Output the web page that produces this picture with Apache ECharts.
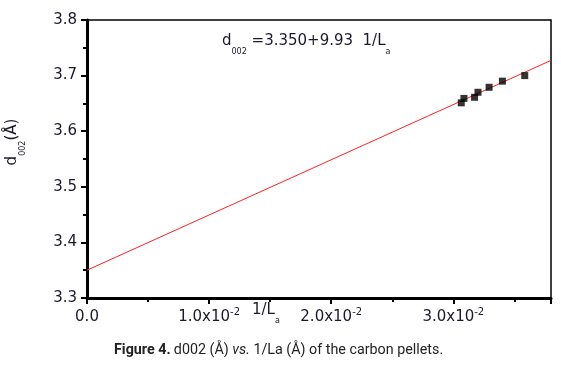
<!DOCTYPE html>
<html>
<head>
<meta charset="utf-8">
<script src="https://cdn.jsdelivr.net/npm/echarts@6/dist/echarts.min.js"></script>
<style>
html,body{margin:0;padding:0;background:#fff;}
#chart{width:561px;height:365px;}
</style>
</head>
<body>
<div id="chart"></div>
<script>
// Data
const invLa = [0.03065, 0.03087, 0.03174, 0.03202, 0.03293, 0.03402, 0.03585];
const d002 = [3.651, 3.659, 3.661, 3.670, 3.679, 3.690, 3.700];
const fitIntercept = 3.350;
const fitSlope = 9.93;
const fitRange = [0, 0.038];
const yTicks = ['3.3', '3.4', '3.5', '3.6', '3.7', '3.8'];
const xTickMantissa = ['0.0', '1.0', '2.0', '3.0'];

const fitLine = fitRange.map(x => [x, fitIntercept + fitSlope * x]);
const pts = invLa.map((x, i) => [x, d002[i]]);

const FONT = 'DejaVu Sans';
const CAP = 'Roboto';
const chart = echarts.init(document.getElementById('chart'));
chart.setOption({
  animation: false,
  backgroundColor: '#fff',
  grid: {left: 87, right: 10, top: 20, bottom: 67, show: true, borderColor: '#000', borderWidth: 1.5, backgroundColor: 'transparent'},
  xAxis: {
    type: 'value', min: 0, max: 0.038, interval: 0.01,
    axisLine: {show: true, lineStyle: {color: '#000', width: 3}},
    axisTick: {show: true, length: 6, lineStyle: {color: '#000', width: 2}},
    minorTick: {show: true, splitNumber: 2, length: 4, lineStyle: {color: '#000', width: 2}},
    splitLine: {show: false},
    axisLabel: {
      margin: 9, showMaxLabel: false,
      formatter: function (v) {
        const i = Math.round(v * 100);
        if (i === 0) return '{b|' + xTickMantissa[0] + '}';
        return '{b|' + xTickMantissa[i] + 'x10}{s|-2}';
      },
      rich: {
        b: {fontFamily: FONT, fontSize: 15, color: '#1a1a2a', lineHeight: 20, verticalAlign: 'middle'},
        s: {fontFamily: FONT, fontSize: 10, color: '#1a1a2a', lineHeight: 10, verticalAlign: 'top'}
      }
    }
  },
  yAxis: {
    type: 'value', min: 3.3, max: 3.8, interval: 0.1,
    axisLine: {show: true, lineStyle: {color: '#000', width: 3}},
    axisTick: {show: true, length: 6, lineStyle: {color: '#000', width: 2}},
    minorTick: {show: true, splitNumber: 2, length: 4, lineStyle: {color: '#000', width: 2}},
    splitLine: {show: false},
    axisLabel: {
      margin: 10, fontFamily: FONT, fontSize: 15, color: '#1a1a2a',
      formatter: function (v) { return yTicks[Math.round((v - 3.3) * 10)]; }
    }
  },
  series: [
    {type: 'line', data: fitLine, symbol: 'none', lineStyle: {color: '#ff2020', width: 1}, z: 2},
    {type: 'scatter', data: pts, symbol: 'rect', symbolSize: 7, itemStyle: {color: '#000'}, z: 3}
  ],
  graphic: [
    {type: 'text', left: 222, top: 34, style: {
      text: '{b|d}{u|002}{b| =3.350+9.93  1/L}{u|a}',
      rich: {
        b: {fontFamily: FONT, fontSize: 15, fill: '#1a1a2a', lineHeight: 22, verticalAlign: 'top'},
        u: {fontFamily: FONT, fontSize: 8, fill: '#1a1a2a', lineHeight: 9, verticalAlign: 'bottom'}
      }}},
    {type: 'text', left: 252, top: 303, style: {
      text: '{b|1/L}{u|a}',
      rich: {
        b: {fontFamily: FONT, fontSize: 15, fill: '#1a1a2a', lineHeight: 22, verticalAlign: 'top'},
        u: {fontFamily: FONT, fontSize: 8, fill: '#1a1a2a', lineHeight: 9, verticalAlign: 'bottom'}
      }}},
    {type: 'text', x: 16, y: 142, rotation: Math.PI / 2, style: {
      text: '{b|d}{u|002}{b|(Å)}', align: 'center', verticalAlign: 'middle',
      rich: {
        b: {fontFamily: FONT, fontSize: 15, fill: '#1a1a2a', lineHeight: 22, verticalAlign: 'top'},
        u: {fontFamily: FONT, fontSize: 8, fill: '#1a1a2a', lineHeight: 9, verticalAlign: 'bottom'}
      }}},
    {type: 'text', left: 114, top: 343, style: {
      text: '{b|Figure 4.} {n|d002 (Å) }{i|vs.}{n| 1/La (Å) of the carbon pellets.}',
      rich: {
        b: {fontFamily: CAP, fontSize: 14.3, fontWeight: 'bold', fill: '#222'},
        n: {fontFamily: CAP, fontSize: 14.3, fill: '#222'},
        i: {fontFamily: CAP, fontSize: 14.3, fontStyle: 'italic', fill: '#222'}
      }}}
  ]
});
</script>
</body>
</html>
